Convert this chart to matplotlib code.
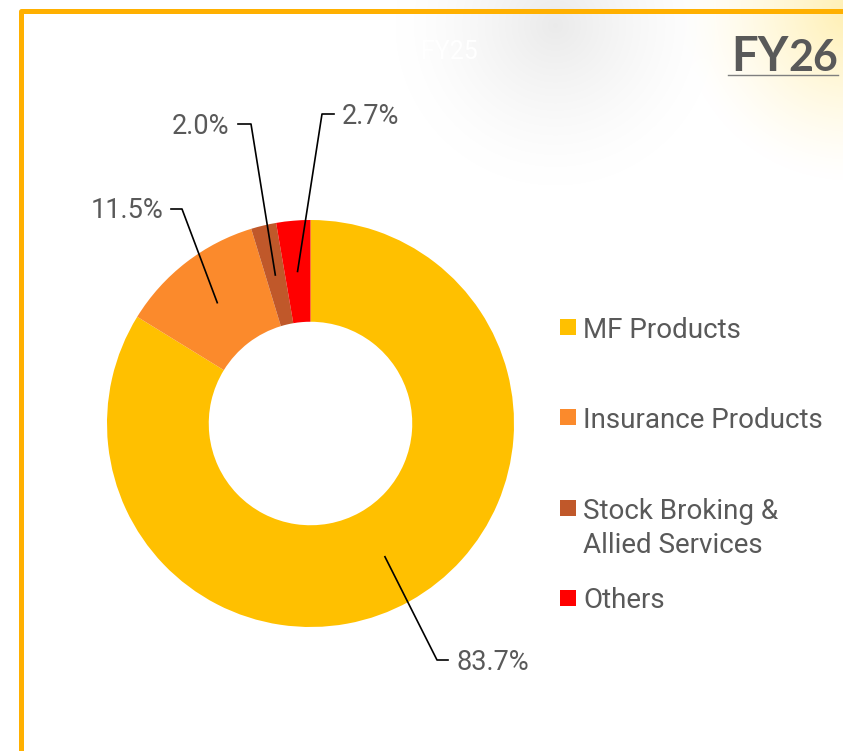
import numpy as np
import matplotlib.pyplot as plt
from matplotlib.patches import Rectangle

categories = ['MF Products', 'Insurance Products', 'Stock Broking &\nAllied Services', 'Others']
shares = [83.7, 11.5, 2.0, 2.7]
colors = ['#FFC000', '#FB8A2C', '#C0582A', '#FF0000']
title_main, title_num = 'FY', '26'

W, H = 843, 751
GRAY = '#595959'

fig = plt.figure(figsize=(W / 100, H / 100), dpi=100)
ax = fig.add_axes([0, 0, 1, 1])


def Y(y):
    # image rows (from top) -> axes y
    return H - y


# soft glows in the top area
xx, yy = np.meshgrid(np.arange(W), np.arange(H))
bg = np.ones((H, W, 3))
d1 = np.hypot(xx - 555, yy - 25) / 160
g1 = np.clip(1 - d1, 0, 1) ** 1.4 * 0.08
bg -= g1[..., None]
d2 = np.hypot(xx - 850, yy - 10) / 170
g2 = np.clip(1 - d2, 0, 1) ** 1.3
tint = np.array([0.0, 0.06, 0.30])
bg -= g2[..., None] * tint
ax.imshow(np.clip(bg, 0, 1), extent=(0, W, 0, H), origin='upper', zorder=0)

# faint title hidden in the background
ax.text(478, Y(52), 'FY25', color='white', fontsize=18, family='Roboto',
        ha='right', va='center', zorder=1)

# frame
ax.plot([20.5, 20.5, W + 5], [-5, Y(10.5), Y(10.5)], color='#FFB000', lw=3.6,
        solid_joinstyle='round', zorder=2)

# donut
cx, cy, R = 310.5, Y(423.5), 203.5
wedges, _ = ax.pie(shares, colors=colors, startangle=90, counterclock=False,
                   center=(cx, cy), radius=R,
                   wedgeprops=dict(width=R * 0.5, linewidth=0))
for w in wedges:
    w.set_zorder(3)

# leader lines and value labels
corners = [(437, 660), (182, 209), (251, 124), (322, 114)]
ends = [(448, 660), (171, 209), (238, 124), (334, 114)]
text_pos = [(456, 663), (163, 210), (229, 127), (342, 117)]
aligns = ['left', 'right', 'right', 'left']
rm = R * 0.75
for w, v, c, e, tp, ha in zip(wedges, shares, corners, ends, text_pos, aligns):
    mid = np.deg2rad((w.theta1 + w.theta2) / 2)
    sx, sy = cx + rm * np.cos(mid), cy + rm * np.sin(mid)
    ax.plot([sx, c[0], e[0]], [sy, Y(c[1]), Y(e[1])], color='black', lw=1.2,
            zorder=4)
    ax.text(tp[0], Y(tp[1]), f'{v:.1f}%', color=GRAY, fontsize=19.5,
            family='Roboto', ha=ha, va='center', zorder=4)

# legend
leg_y = [327, 417, 508, 598]
line_px = 35
for lab, col, ly in zip(categories, colors, leg_y):
    ax.add_patch(Rectangle((560, Y(ly) - 8), 16, 16, facecolor=col,
                           edgecolor='none', zorder=4))
    n = lab.count('\n')
    ax.text(583, Y(ly + 3 + n * line_px / 2), lab, color=GRAY, fontsize=20,
            family='Roboto', ha='left', va='center', linespacing=1.3, zorder=4)

# FY26 tag
ax.text(731, Y(71), title_main, color=GRAY, fontsize=34, family='Lato',
        fontweight='bold', ha='left', va='baseline', zorder=4)
ax.text(838, Y(71), title_num, color=GRAY, fontsize=31, family='Lato',
        fontweight='bold', ha='right', va='baseline', zorder=4)
ax.plot([728, 838], [Y(74.5), Y(74.5)], color='#7F7F7F', lw=1.0, zorder=4)

ax.set_xlim(0, W)
ax.set_ylim(0, H)
ax.set_aspect('auto')
ax.axis('off')

plt.savefig('out.png', dpi=100)
